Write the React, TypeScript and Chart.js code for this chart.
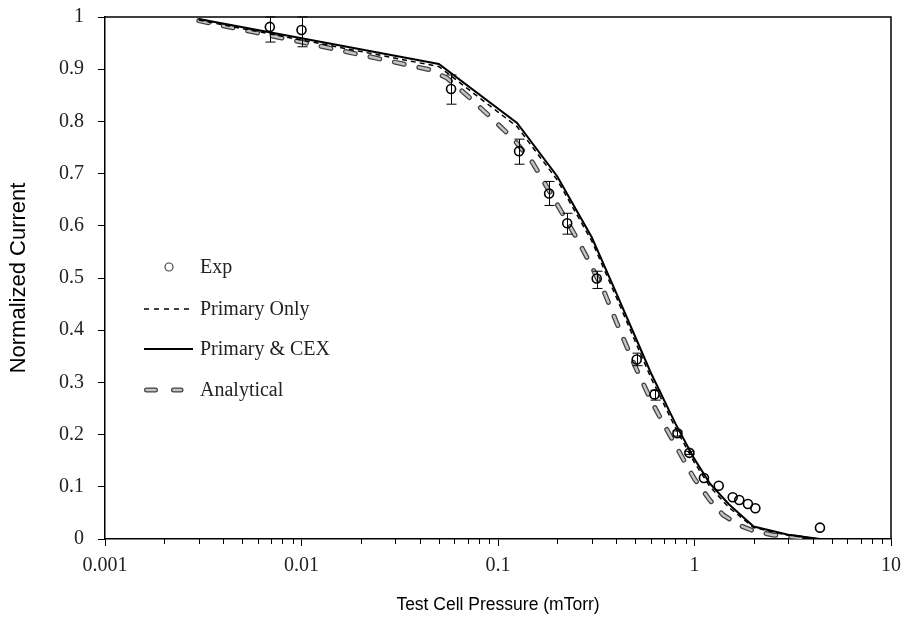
import React, { useEffect, useRef } from 'react';
import { Chart, registerables } from 'chart.js';

Chart.register(...registerables);

// ---- Data ----
const expPressure = [0.0069, 0.01, 0.0577, 0.128, 0.182, 0.225, 0.318, 0.508, 0.626, 0.819, 0.942, 1.117, 1.328, 1.565, 1.69, 1.87, 2.04, 4.35];
const expCurrent = [0.981, 0.975, 0.862, 0.743, 0.662, 0.605, 0.499, 0.344, 0.277, 0.2025, 0.165, 0.117, 0.102, 0.08, 0.0747, 0.067, 0.0588, 0.0217];
const expErrLow = [0.952, 0.943, 0.833, 0.718, 0.639, 0.584, 0.48, 0.332, 0.266, 0.197, 0.162, 0.117, 0.102, 0.08, 0.0747, 0.067, 0.0588, 0.0217];
const expErrHigh = [1.0, 1.0, 0.889, 0.766, 0.685, 0.624, 0.513, 0.356, 0.285, 0.207, 0.168, 0.117, 0.102, 0.08, 0.0747, 0.067, 0.0588, 0.0217];

const simPressure = [0.003, 0.05, 0.125, 0.2, 0.3, 0.4, 0.5, 0.6, 0.8, 1.0, 1.2, 1.5, 2.0, 3.0, 4.35];
const primaryOnly = [0.994, 0.905, 0.79, 0.688, 0.571, 0.463, 0.378, 0.309, 0.213, 0.146, 0.1, 0.06, 0.022, 0.007, 0];
const primaryCex = [0.996, 0.91, 0.797, 0.695, 0.578, 0.471, 0.387, 0.318, 0.221, 0.153, 0.106, 0.066, 0.024, 0.008, 0];

const analyticalPressure = [0.003, 0.01, 0.045, 0.055, 0.07, 0.09, 0.12, 0.15, 0.2, 0.25, 0.3, 0.35, 0.4, 0.5, 0.6, 0.7, 0.8, 0.9, 1.0, 1.2, 1.4, 1.7, 2.0, 2.5, 3.0, 4.0];
const analyticalCurrent = [0.993, 0.952, 0.899, 0.883, 0.849, 0.811, 0.766, 0.721, 0.641, 0.578, 0.522, 0.47, 0.416, 0.33, 0.266, 0.219, 0.18, 0.145, 0.115, 0.074, 0.046, 0.026, 0.0155, 0.0077, 0.0047, 0];

const xTickValues = [0.001, 0.01, 0.1, 1, 10];
const xTickLabels = ['0.001', '0.01', '0.1', '1', '10'];
const legendLabels = ['Exp', 'Primary Only', 'Primary & CEX', 'Analytical'];

const SERIF = "'Liberation Serif', 'DejaVu Serif', serif";
const SANS = "'Liberation Sans', Arial, sans-serif";
const ANALYTIC_DARK = '#404040';
const ANALYTIC_LIGHT = '#c4c4c4';

const toXY = (xs: number[], ys: number[]) => xs.map((x, i) => ({ x, y: ys[i] }));

const extrasPlugin = {
  id: 'extras',
  afterDatasetsDraw(chart: any) {
    const { ctx, chartArea, scales } = chart;
    const xs = scales.x;
    const ys = scales.y;
    // error bars
    ctx.save();
    ctx.beginPath();
    ctx.rect(chartArea.left, chartArea.top - 1, chartArea.right - chartArea.left, chartArea.bottom - chartArea.top + 1);
    ctx.clip();
    ctx.strokeStyle = '#000';
    ctx.lineWidth = 1;
    expPressure.forEach((p, i) => {
      if (expErrHigh[i] - expErrLow[i] <= 0) return;
      const px = Math.round(xs.getPixelForValue(p)) + 0.5;
      const yl = ys.getPixelForValue(expErrLow[i]);
      const yh = ys.getPixelForValue(expErrHigh[i]);
      ctx.beginPath();
      ctx.moveTo(px, yl);
      ctx.lineTo(px, yh);
      ctx.moveTo(px - 5, yl);
      ctx.lineTo(px + 5, yl);
      ctx.moveTo(px - 5, yh);
      ctx.lineTo(px + 5, yh);
      ctx.stroke();
    });
    ctx.restore();
  },
  afterDraw(chart: any) {
    const { ctx, chartArea, scales } = chart;
    const xs = scales.x;
    ctx.save();
    // frame top/right
    ctx.strokeStyle = '#000';
    ctx.lineWidth = 1.5;
    ctx.beginPath();
    ctx.moveTo(chartArea.left, chartArea.top);
    ctx.lineTo(chartArea.right, chartArea.top);
    ctx.lineTo(chartArea.right, chartArea.bottom);
    ctx.stroke();
    // minor x ticks
    ctx.lineWidth = 1;
    ctx.beginPath();
    for (let d = -3; d <= 0; d++) {
      for (let k = 2; k <= 9; k++) {
        const v = k * Math.pow(10, d);
        const px = Math.round(xs.getPixelForValue(v)) + 0.5;
        ctx.moveTo(px, chartArea.bottom);
        ctx.lineTo(px, chartArea.bottom + 5);
      }
    }
    ctx.stroke();

    // legend
    const rows = [267, 309, 349, 390];
    const x0 = 144;
    const x1 = 192;
    const textX = 200;
    ctx.font = `20px ${SERIF}`;
    ctx.fillStyle = '#222';
    ctx.textBaseline = 'middle';
    ctx.textAlign = 'left';
    legendLabels.forEach((lab, i) => ctx.fillText(lab, textX, rows[i] + 1));

    // Exp marker
    ctx.strokeStyle = '#444';
    ctx.lineWidth = 1.2;
    ctx.beginPath();
    ctx.arc(169, rows[0], 4, 0, Math.PI * 2);
    ctx.stroke();
    // Primary only
    ctx.strokeStyle = '#000';
    ctx.lineWidth = 1.5;
    ctx.setLineDash([5, 5]);
    ctx.beginPath();
    ctx.moveTo(x0, rows[1]);
    ctx.lineTo(x1, rows[1]);
    ctx.stroke();
    // Primary & CEX
    ctx.setLineDash([]);
    ctx.lineWidth = 2;
    ctx.beginPath();
    ctx.moveTo(x0, rows[2]);
    ctx.lineTo(x1 + 1, rows[2]);
    ctx.stroke();
    // Analytical
    ctx.lineCap = 'round';
    ctx.setLineDash([9, 18]);
    ctx.strokeStyle = ANALYTIC_DARK;
    ctx.lineWidth = 5;
    ctx.beginPath();
    ctx.moveTo(146.5, rows[3]);
    ctx.lineTo(181, rows[3]);
    ctx.stroke();
    ctx.strokeStyle = ANALYTIC_LIGHT;
    ctx.lineWidth = 2.5;
    ctx.beginPath();
    ctx.moveTo(146.5, rows[3]);
    ctx.lineTo(181, rows[3]);
    ctx.stroke();
    ctx.restore();
  },
};

export default function App() {
  const canvasRef = useRef<HTMLCanvasElement | null>(null);

  useEffect(() => {
    document.body.style.margin = '0';
    const canvas = canvasRef.current;
    if (!canvas) return;
    const analyticalData = toXY(analyticalPressure, analyticalCurrent);
    const chart = new Chart(canvas, {
      type: 'scatter',
      data: {
        datasets: [
          {
            label: legendLabels[0],
            data: toXY(expPressure, expCurrent),
            showLine: false,
            pointRadius: 4.5,
            pointBorderWidth: 1.6,
            pointBorderColor: '#000',
            pointBackgroundColor: 'rgba(0,0,0,0)',
            order: 0,
          },
          {
            label: legendLabels[1],
            data: toXY(simPressure, primaryOnly),
            showLine: true,
            borderColor: '#000',
            borderWidth: 1.5,
            borderDash: [5, 4],
            pointRadius: 0,
            fill: false,
            order: 2,
          },
          {
            label: legendLabels[2],
            data: toXY(simPressure, primaryCex),
            showLine: true,
            borderColor: '#000',
            borderWidth: 2,
            pointRadius: 0,
            fill: false,
            order: 1,
          },
          {
            label: legendLabels[3],
            data: analyticalData,
            showLine: true,
            borderColor: ANALYTIC_DARK,
            borderWidth: 5,
            borderDash: [10, 15],
            borderCapStyle: 'round',
            pointRadius: 0,
            fill: false,
            order: 4,
          },
          {
            label: legendLabels[3] + ' fill',
            data: analyticalData,
            showLine: true,
            borderColor: ANALYTIC_LIGHT,
            borderWidth: 2.5,
            borderDash: [10, 15],
            borderCapStyle: 'round',
            pointRadius: 0,
            fill: false,
            order: 3,
          },
        ],
      },
      options: {
        animation: false,
        responsive: false,
        maintainAspectRatio: false,
        layout: { padding: { left: 0, right: 15, top: 17, bottom: 0 } },
        plugins: {
          legend: { display: false },
          tooltip: { enabled: false },
        },
        scales: {
          x: {
            type: 'logarithmic',
            min: 0.001,
            max: 10,
            afterBuildTicks: (scale: any) => {
              scale.ticks = xTickValues.map((v) => ({ value: v, major: true }));
            },
            afterFit: (scale: any) => {
              scale.height = 78;
              scale.paddingLeft = 0;
              scale.paddingRight = 0;
            },
            ticks: {
              autoSkip: false,
              maxRotation: 0,
              padding: 8,
              color: '#222',
              font: { family: SERIF, size: 20 },
              callback: (_v: any, i: number) => xTickLabels[i],
            },
            grid: {
              display: true,
              drawOnChartArea: false,
              drawTicks: true,
              tickLength: 7,
              color: '#000',
              lineWidth: 1,
            },
            border: { display: true, color: '#000', width: 1.5 },
            title: {
              display: true,
              text: 'Test Cell Pressure (mTorr)',
              color: '#000',
              font: { family: SANS, size: 17.5 },
              padding: { top: 0, bottom: 1 },
            },
          },
          y: {
            type: 'linear',
            min: 0,
            max: 1,
            afterFit: (scale: any) => {
              scale.width = 105;
              scale.paddingTop = 0;
              scale.paddingBottom = 0;
            },
            ticks: {
              stepSize: 0.1,
              padding: 14,
              color: '#222',
              font: { family: SERIF, size: 20 },
              callback: (v: any) => {
                const n = Number(v);
                if (Math.abs(n) < 1e-9) return '0';
                if (Math.abs(n - 1) < 1e-9) return '1';
                return n.toFixed(1);
              },
            },
            grid: {
              display: true,
              drawOnChartArea: false,
              drawTicks: true,
              tickLength: 7,
              color: '#000',
              lineWidth: 1,
            },
            border: { display: true, color: '#000', width: 1.5 },
            title: {
              display: true,
              text: 'Normalized Current',
              color: '#000',
              font: { family: SANS, size: 22 },
              padding: { top: 6, bottom: 0 },
            },
          },
        },
      },
      plugins: [extrasPlugin],
    } as any);
    return () => chart.destroy();
  }, []);

  return (
    <div style={{ width: 906, height: 617, position: 'relative' }}>
      <canvas ref={canvasRef} width={906} height={617} style={{ display: 'block' }} />
    </div>
  );
}
